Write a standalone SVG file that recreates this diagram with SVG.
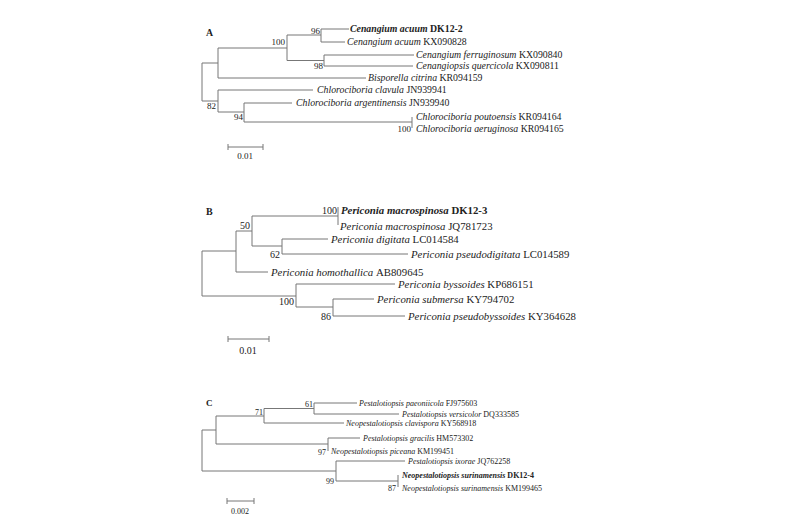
<svg xmlns="http://www.w3.org/2000/svg" width="800" height="530" viewBox="0 0 800 530">
<style>
text{font-family:"Liberation Serif","Times New Roman",serif;fill:#222}
.a{font-size:9.8px}.b{font-size:10.8px}.c{font-size:8px}
.i{font-style:italic}.bd{font-weight:bold}
.s{text-anchor:end}
path{fill:none;stroke:#777;stroke-width:1}
</style>
<rect width="800" height="530" fill="#fff"/>
<g id="connectors">
<path d="M202,63V101M202,63H218M202,101H218M218,48V78M218,48H287M218,78H366M287,35V60.5M287,35H321M287,60.5H324M321,29V42M321,29H349M321,42H345M324,55V66M324,55H414M324,66H413M218,90V112M218,90H313M218,112H244M244,103V122M244,103H292M244,122H412M412,117V128"/>
<path d="M228,147H263M228,144V150M263,144V150"/>
<path d="M202,251V296M202,251H236M202,296H296M236,231V272M236,231H252M236,272H268M252,216V246M252,216H338M252,246H282M338,207V225M282,239V254M282,239H328M282,254H408M296,284V307M296,284H395M296,307H333M333,299V316M333,299H374M333,316H405"/>
<path d="M228,339H269M228,336V342M269,336V342"/>
<path d="M202,430V471M202,430H216M202,471H336M216,416V444M216,416H264M216,444H328M264,408.5V423M264,408.5H314M264,423H344M314,403V414M314,403H357M314,414H399M328,438V451M328,438H360M336,461V481M336,461H405M336,481H398M398,475V487"/>
<path d="M227,501H254M227,498V504M254,498V504"/>
</g>
<g id="treeA" class="a">
<text x="206" y="36" class="bd">A</text>
<text x="350" y="32" class="i bd">Cenangium acuum <tspan font-style="normal">DK12-2</tspan></text>
<text x="347" y="45" class="i">Cenangium acuum <tspan font-style="normal">KX090828</tspan></text>
<text x="416" y="58" class="i">Cenangium ferruginosum <tspan font-style="normal">KX090840</tspan></text>
<text x="416" y="69" class="i">Cenangiopsis quercicola <tspan font-style="normal">KX090811</tspan></text>
<text x="368" y="81" class="i">Bisporella citrina <tspan font-style="normal">KR094159</tspan></text>
<text x="317" y="93" class="i">Chlorociboria clavula <tspan font-style="normal">JN939941</tspan></text>
<text x="296" y="106" class="i">Chlorociboria argentinensis <tspan font-style="normal">JN939940</tspan></text>
<text x="416" y="120" class="i">Chlorociboria poutoensis <tspan font-style="normal">KR094164</tspan></text>
<text x="416" y="132" class="i">Chlorociboria aeruginosa <tspan font-style="normal">KR094165</tspan></text>
<g font-size="9">
<text x="320" y="34" class="s">96</text>
<text x="285" y="45" class="s">100</text>
<text x="323" y="69" class="s">98</text>
<text x="216" y="109" class="s">82</text>
<text x="243" y="120" class="s">94</text>
<text x="411" y="132" class="s">100</text>
<text x="245" y="159" text-anchor="middle">0.01</text>
</g>
</g>
<g id="treeB" class="b">
<text x="206" y="215" class="bd" font-size="10">B</text>
<text x="341" y="214" class="i bd">Periconia macrospinosa <tspan font-style="normal">DK12-3</tspan></text>
<text x="340" y="230" class="i">Periconia macrospinosa <tspan font-style="normal">JQ781723</tspan></text>
<text x="331" y="243" class="i">Periconia digitata <tspan font-style="normal">LC014584</tspan></text>
<text x="411" y="258" class="i">Periconia pseudodigitata <tspan font-style="normal">LC014589</tspan></text>
<text x="271" y="276" class="i">Periconia homothallica <tspan font-style="normal">AB809645</tspan></text>
<text x="398" y="288" class="i">Periconia byssoides <tspan font-style="normal">KP686151</tspan></text>
<text x="377" y="303" class="i">Periconia submersa <tspan font-style="normal">KY794702</tspan></text>
<text x="408" y="320" class="i">Periconia pseudobyssoides <tspan font-style="normal">KY364628</tspan></text>
<g font-size="10">
<text x="337" y="214" class="s">100</text>
<text x="250" y="229" class="s">50</text>
<text x="280" y="258" class="s">62</text>
<text x="294" y="305" class="s">100</text>
<text x="331" y="320" class="s">86</text>
<text x="248" y="354" text-anchor="middle">0.01</text>
</g>
</g>
<g id="treeC" class="c">
<text x="206" y="406" class="bd" font-size="9">C</text>
<text x="359" y="406" class="i">Pestalotiopsis paeoniicola <tspan font-style="normal">FJ975603</tspan></text>
<text x="402" y="417" class="i">Pestalotiopsis versicolor <tspan font-style="normal">DQ333585</tspan></text>
<text x="346" y="426" class="i">Neopestalotiopsis clavispora <tspan font-style="normal">KY568918</tspan></text>
<text x="363" y="441" class="i">Pestalotiopsis gracilis <tspan font-style="normal">HM573302</tspan></text>
<text x="331" y="454" class="i">Neopestalotiopsis piceana <tspan font-style="normal">KM199451</tspan></text>
<text x="408" y="464" class="i">Pestalotiopsis ixorae <tspan font-style="normal">JQ762258</tspan></text>
<text x="402" y="478" class="i bd">Neopestalotiopsis surinamensis <tspan font-style="normal">DK12-4</tspan></text>
<text x="402" y="491" class="i">Neopestalotiopsis surinamensis <tspan font-style="normal">KM199465</tspan></text>
<text x="313" y="407" class="s">61</text>
<text x="263" y="415" class="s">71</text>
<text x="326" y="455" class="s">97</text>
<text x="334" y="484" class="s">99</text>
<text x="396" y="491" class="s">87</text>
<text x="240" y="514" text-anchor="middle">0.002</text>
</g>
</svg>
